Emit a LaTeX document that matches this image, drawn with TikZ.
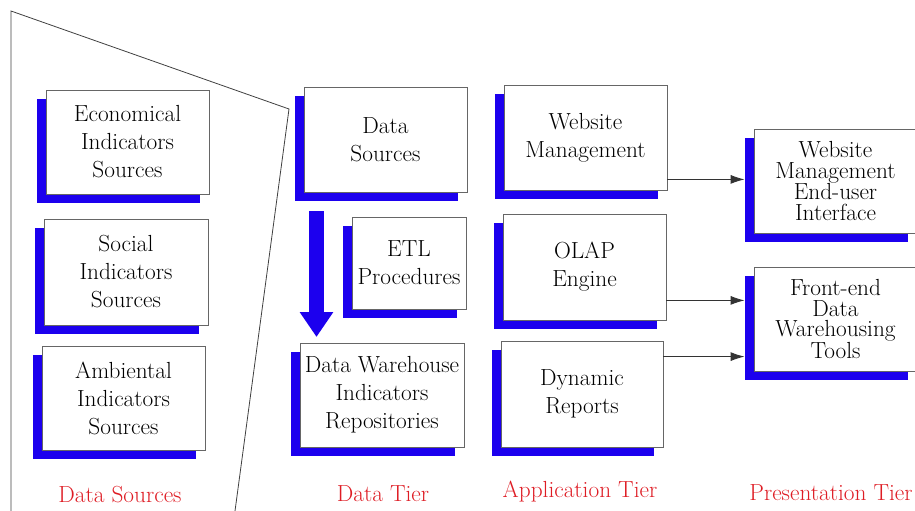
\documentclass[tikz,border=0pt]{standalone}
\usetikzlibrary{shadows,arrows.meta,calc}
\definecolor{shblue}{RGB}{28,0,238}
\definecolor{tierred}{RGB}{222,28,36}
\begin{document}
\begin{tikzpicture}[x=1pt,y=-1pt,
  box/.style={draw=black!60, line width=0.8pt, fill=white, align=center,
    inner sep=0pt, font=\fontsize{23.3}{28}\selectfont,
    drop shadow={opacity=1, fill=shblue, shadow xshift=-9pt, shadow yshift=-9pt}},
  tightbox/.style={box, font=\fontsize{23.3}{20.8}\selectfont},
  tier/.style={text=tierred, font=\fontsize{23.3}{28}\selectfont, inner sep=0pt},
  conn/.style={draw=black!80, line width=0.9pt, -{Latex[length=14pt,width=9pt]}},
  outline/.style={draw=black!75, line width=0.8pt}]
\useasboundingbox (0,0) rectangle (915,511);

% Data sources region outline
\coordinate (p1) at (11,511);
\coordinate (p2) at (11,11);
\coordinate (p3) at (289,109);
\coordinate (p4) at (235,511);
\draw[outline] (p1) -- (p2) -- (p3) -- (p4);

% Data sources
\node[box, minimum width=163pt, minimum height=104pt] (econ) at (127.5,142) {Economical\\Indicators\\Sources};
\node[box, minimum width=164pt, minimum height=106pt] (social) at (126,272) {Social\\Indicators\\Sources};
\node[box, minimum width=163pt, minimum height=104pt] (amb) at (123.5,398) {Ambiental\\Indicators\\Sources};

% Data tier
\node[box, minimum width=163pt, minimum height=105pt] (dsrc) at (385.5,139.5) {Data\\Sources};
\node[box, minimum width=114pt, minimum height=92pt] (etl) at (409,263) {ETL\\Procedures};
\node[box, minimum width=164pt, minimum height=104pt] (dw) at (382,395) {Data Warehouse\\Indicators\\Repositories};

% Application tier
\node[box, minimum width=163pt, minimum height=105pt] (web) at (585.5,137.5) {Website\\Management};
\node[box, minimum width=163pt, minimum height=106pt] (olap) at (584.5,267) {OLAP\\Engine};
\node[box, minimum width=162pt, minimum height=106pt] (dyn) at (582,394) {Dynamic\\Reports};

% Presentation tier
\node[tightbox, minimum width=163pt, minimum height=104pt] (wmeui) at (835.5,181) {Website\\Management\\End-user\\Interface};
\node[tightbox, minimum width=163pt, minimum height=104pt] (fe) at (835.5,319) {Front-end\\Data\\Warehousing\\Tools};

% Big blue arrow
\coordinate (bigS) at (316.5,211);
\coordinate (bigE) at (316.5,337);
\draw[shblue, line width=15pt, -{Triangle[length=25pt,width=32pt]}] (bigS) -- (bigE);

% Connectors
\coordinate (c1) at ([yshift=11pt]web.south east);
\coordinate (t1) at ([xshift=-9pt]wmeui.west);
\draw[conn] (c1) -- (c1 -| t1);
\coordinate (c2) at ([yshift=20pt]olap.south east);
\coordinate (t2) at ([xshift=-9pt]fe.west);
\draw[conn] (c2) -- (c2 -| t2);
\coordinate (c3) at ([yshift=-16pt]dyn.north east);
\draw[conn] (c3) -- (c3 -| t2);

% Tier labels
\node[tier] (l1) at (120,495) {Data Sources};
\node[tier] (l2) at (383,494) {Data Tier};
\node[tier] (l3) at (580,492) {Application Tier};
\node[tier] (l4) at (831,493) {Presentation Tier};
\end{tikzpicture}
\end{document}
